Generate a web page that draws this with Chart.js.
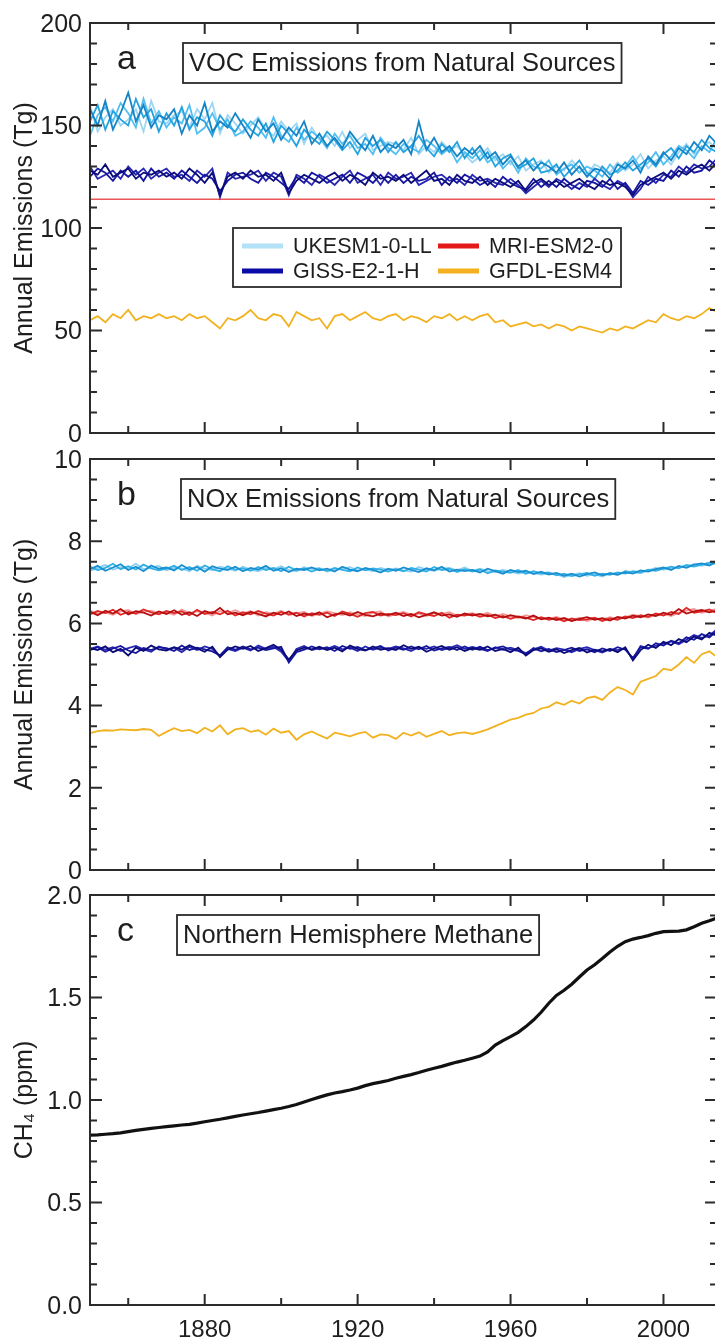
<!DOCTYPE html>
<html>
<head>
<meta charset="utf-8">
<script src="https://cdn.jsdelivr.net/npm/chart.js@4.4.0/dist/chart.umd.min.js"></script>
<style>
  html, body { margin: 0; padding: 0; background: #fff; overflow: hidden; width: 715px; height: 1341px; }
  canvas { position: absolute; left: 0; }
</style>
</head>
<body>
<!-- canvases overlap a little: each one keeps 23px around its plot for the end tick labels -->
<canvas id="chartA" width="720" height="456" style="top:0px"></canvas>
<canvas id="chartB" width="720" height="457" style="top:436px"></canvas>
<canvas id="chartC" width="720" height="469" style="top:872px"></canvas>
<script>
// --- DATA ---
const years = [
  1850,1852,1854,1856,1858,1860,1862,1864,1866,1868,
  1870,1872,1874,1876,1878,1880,1882,1884,1886,1888,
  1890,1892,1894,1896,1898,1900,1902,1904,1906,1908,
  1910,1912,1914,1916,1918,1920,1922,1924,1926,1928,
  1930,1932,1934,1936,1938,1940,1942,1944,1946,1948,
  1950,1952,1954,1956,1958,1960,1962,1964,1966,1968,
  1970,1972,1974,1976,1978,1980,1982,1984,1986,1988,
  1990,1992,1994,1996,1998,2000,2002,2004,2006,2008,
  2010,2012,2014
];

const modelNames = ['UKESM1-0-LL', 'MRI-ESM2-0', 'GISS-E2-1-H', 'GFDL-ESM4'];
const legendColors = ['#b3e1f7', '#e41a1a', '#0b0ba8', '#f4b020'];

// tick values
const xTickYears = [1860, 1880, 1900, 1920, 1940, 1960, 1980, 2000];
const xLabelYears = [1880, 1920, 1960, 2000];
const vocTicks = [0,10,20,30,40,50,60,70,80,90,100,110,120,130,140,150,160,170,180,190,200];
const vocLabels = [0, 50, 100, 150, 200];
const noxTicks = [0,0.5,1,1.5,2,2.5,3,3.5,4,4.5,5,5.5,6,6.5,7,7.5,8,8.5,9,9.5,10];
const noxLabels = [0, 2, 4, 6, 8, 10];
const ch4Ticks = [0,0.1,0.2,0.3,0.4,0.5,0.6,0.7,0.8,0.9,1,1.1,1.2,1.3,1.4,1.5,1.6,1.7,1.8,1.9,2];
const ch4Labels = [0, 0.5, 1, 1.5, 2];

// panel a: VOC emissions (Tg)
const vocUk1 = [
  158,150,162,148,156,166,152,160,149,155,
  153,158,146,155,150,161,147,152,149,156,
  150,144,153,147,151,143,149,145,152,141,
  146,140,144,139,147,142,138,145,137,141,
  139,143,136,152,138,144,137,140,135,139,
  136,140,134,137,131,135,130,133,128,132,
  130,127,132,126,130,125,129,128,124,131,
  129,133,127,135,131,137,133,139,136,142,
  138,145,141
];
const vocUk2 = [
  152,160,148,157,153,150,163,154,158,147,
  156,150,159,148,154,152,145,155,150,147,
  153,148,145,151,142,150,146,140,148,144,
  141,147,143,138,142,136,144,140,143,137,
  142,137,140,145,139,135,141,137,142,134,
  139,133,137,130,134,136,129,131,134,127,
  128,131,125,129,133,127,124,130,126,128,
  132,128,131,134,130,136,139,134,140,137,
  143,139,137
];
const vocUk3 = [
  145,155,159,152,161,156,149,163,151,157,
  149,154,151,160,146,149,156,148,153,145,
  147,152,149,144,154,145,142,149,143,147,
  144,139,146,141,145,139,141,136,144,139,
  136,141,139,137,143,140,136,139,132,137,
  134,138,132,135,129,133,127,134,130,129,
  133,126,129,131,127,130,128,125,131,127,
  130,135,129,132,137,131,135,140,138,134,
  140,137,144
];
const vocUk4 = [
  160,147,154,158,150,153,158,147,162,152,
  151,155,157,149,158,153,161,146,155,151,
  146,150,154,148,145,152,147,151,141,149,
  143,145,140,147,139,143,146,138,140,142,
  141,138,144,136,140,137,142,138,140,136,
  132,135,139,133,136,131,135,128,131,133,
  127,130,128,133,129,126,131,129,127,132,
  128,131,136,129,133,135,131,137,141,136,
  139,142,138
];
const vocGiss1 = [
  128,126,131,125,127,129,124,127,126,128,
  125,127,124,129,126,122,127,116,125,127,
  124,128,125,126,123,127,117,123,126,124,
  122,125,127,123,126,124,121,127,124,125,
  123,126,122,125,128,123,124,121,126,123,
  122,125,121,124,122,120,123,118,122,124,
  121,123,120,122,124,121,119,123,121,122,
  120,116,121,123,125,127,124,128,126,129,
  131,128,132
];
const vocGiss2 = [
  125,129,127,123,128,125,128,123,129,125,
  127,124,128,125,122,126,124,118,123,126,
  127,124,122,127,125,122,119,125,122,127,
  125,122,124,126,122,127,125,122,126,122,
  126,122,125,123,124,127,121,125,122,126,
  124,121,123,120,125,122,120,119,124,120,
  123,120,124,121,119,123,122,120,124,119,
  122,117,123,121,124,123,128,125,130,127,
  128,133,130
];
const vocGiss3 = [
  130,124,126,128,124,130,126,129,124,127,
  129,125,126,123,128,125,129,115,127,124,
  125,126,128,123,127,125,116,126,124,121,
  126,124,121,125,128,122,124,126,121,127,
  124,125,127,121,123,125,126,123,124,121,
  126,123,124,122,121,124,121,117,120,123,
  120,124,122,119,122,120,124,121,119,123,
  121,115,119,125,122,126,125,130,127,131,
  129,130,134
];
const vocGfdl = [
  55,57,54,58,56,60,55,57,56,58,
  56,57,55,58,56,57,54,51,56,55,
  57,60,56,55,58,57,52,59,57,55,
  56,51,57,58,55,57,59,56,55,57,
  58,55,57,56,54,57,56,58,55,57,
  55,57,58,54,55,52,53,54,52,53,
  51,53,52,50,52,51,50,49,51,50,
  52,51,53,55,54,58,56,55,57,56,
  58,61,59
];
const mriVocYears = [1850, 2014];
const mriVoc = [114, 114];

// panel b: NOx emissions (Tg)
const noxUk1 = [
  7.32,7.40,7.28,7.36,7.44,7.30,7.38,7.27,7.41,7.33,
  7.36,7.29,7.42,7.31,7.37,7.26,7.39,7.33,7.30,7.38,
  7.27,7.35,7.31,7.40,7.28,7.34,7.25,7.33,7.30,7.36,
  7.29,7.33,7.26,7.38,7.31,7.27,7.35,7.30,7.24,7.33,
  7.28,7.36,7.30,7.25,7.34,7.29,7.38,7.26,7.31,7.27,
  7.30,7.24,7.33,7.27,7.21,7.30,7.25,7.28,7.20,7.26,
  7.19,7.23,7.16,7.21,7.14,7.20,7.24,7.17,7.22,7.19,
  7.25,7.21,7.29,7.26,7.32,7.36,7.30,7.40,7.35,7.43,
  7.46,7.41,7.50
];
const noxUk2 = [
  7.38,7.30,7.35,7.45,7.32,7.39,7.31,7.43,7.34,7.29,
  7.33,7.40,7.30,7.37,7.28,7.41,7.32,7.27,7.39,7.31,
  7.34,7.28,7.37,7.30,7.35,7.27,7.38,7.29,7.34,7.26,
  7.33,7.28,7.35,7.30,7.27,7.36,7.29,7.34,7.31,7.26,
  7.32,7.27,7.35,7.31,7.26,7.37,7.30,7.33,7.25,7.32,
  7.26,7.31,7.22,7.29,7.26,7.23,7.30,7.21,7.27,7.22,
  7.24,7.17,7.21,7.15,7.19,7.23,7.16,7.21,7.18,7.24,
  7.21,7.27,7.24,7.31,7.28,7.33,7.38,7.34,7.42,7.38,
  7.43,7.48,7.45
];
const noxUk3 = [
  7.28,7.35,7.42,7.31,7.37,7.34,7.45,7.32,7.36,7.40,
  7.29,7.35,7.34,7.27,7.40,7.33,7.30,7.38,7.34,7.28,
  7.38,7.31,7.27,7.35,7.32,7.39,7.30,7.27,7.37,7.32,
  7.35,7.26,7.31,7.33,7.37,7.29,7.32,7.27,7.35,7.30,
  7.34,7.29,7.26,7.37,7.31,7.28,7.33,7.35,7.29,7.36,
  7.28,7.33,7.27,7.24,7.30,7.26,7.21,7.25,7.23,7.19,
  7.21,7.20,7.13,7.18,7.22,7.16,7.20,7.14,7.23,7.17,
  7.28,7.24,7.22,7.29,7.35,7.31,7.34,7.37,7.39,7.44,
  7.40,7.45,7.52
];
const noxMri1 = [
  6.28,6.20,6.31,6.24,6.35,6.22,6.30,6.26,6.19,6.29,
  6.23,6.32,6.21,6.27,6.18,6.30,6.24,6.38,6.22,6.26,
  6.20,6.28,6.23,6.17,6.26,6.21,6.29,6.18,6.24,6.20,
  6.27,6.15,6.22,6.25,6.19,6.28,6.21,6.17,6.24,6.20,
  6.26,6.18,6.23,6.15,6.21,6.27,6.19,6.22,6.16,6.24,
  6.19,6.23,6.17,6.21,6.14,6.20,6.16,6.12,6.19,6.10,
  6.14,6.08,6.13,6.06,6.11,6.15,6.09,6.13,6.07,6.16,
  6.12,6.19,6.15,6.22,6.18,6.26,6.21,6.35,6.24,6.29,
  6.33,6.27,6.31
];
const noxMri2 = [
  6.22,6.30,6.25,6.33,6.21,6.28,6.24,6.34,6.27,6.22,
  6.30,6.25,6.29,6.20,6.33,6.23,6.28,6.22,6.31,6.19,
  6.27,6.22,6.30,6.24,6.19,6.28,6.22,6.26,6.17,6.25,
  6.21,6.26,6.18,6.29,6.23,6.16,6.25,6.28,6.19,6.23,
  6.20,6.25,6.17,6.27,6.22,6.18,6.26,6.14,6.21,6.19,
  6.23,6.16,6.21,6.13,6.18,6.11,6.17,6.14,6.08,6.15,
  6.09,6.13,6.05,6.12,6.08,6.10,6.14,6.06,6.12,6.09,
  6.17,6.13,6.20,6.16,6.24,6.19,6.28,6.23,6.38,6.26,
  6.29,6.34,6.25
];
const noxMri3 = [
  6.31,6.24,6.27,6.21,6.29,6.33,6.23,6.28,6.31,6.25,
  6.27,6.21,6.34,6.25,6.29,6.26,6.19,6.30,6.25,6.32,
  6.24,6.30,6.19,6.27,6.23,6.31,6.20,6.25,6.28,6.18,
  6.24,6.29,6.25,6.20,6.27,6.22,6.18,6.26,6.29,6.17,
  6.23,6.28,6.21,6.24,6.18,6.25,6.23,6.27,6.19,6.22,
  6.25,6.20,6.26,6.18,6.23,6.17,6.13,6.20,6.15,6.12,
  6.11,6.16,6.10,6.07,6.14,6.06,6.12,6.10,6.15,6.11,
  6.15,6.21,6.17,6.14,6.21,6.23,6.18,6.26,6.31,6.35,
  6.26,6.30,6.36
];
const noxGiss1 = [
  5.40,5.35,5.44,5.30,5.38,5.22,5.41,5.33,5.46,5.37,
  5.34,5.42,5.36,5.47,5.39,5.31,5.43,5.18,5.36,5.44,
  5.38,5.45,5.33,5.40,5.48,5.36,5.12,5.34,5.41,5.37,
  5.43,5.35,5.41,5.32,5.46,5.38,5.34,5.44,5.36,5.40,
  5.35,5.47,5.38,5.43,5.31,5.39,5.45,5.36,5.42,5.33,
  5.40,5.36,5.44,5.33,5.38,5.30,5.41,5.22,5.35,5.39,
  5.31,5.37,5.28,5.35,5.40,5.29,5.36,5.32,5.38,5.30,
  5.42,5.10,5.35,5.48,5.40,5.55,5.47,5.62,5.54,5.68,
  5.61,5.77,5.70
];
const noxGiss2 = [
  5.35,5.42,5.31,5.39,5.45,5.34,5.28,5.40,5.35,5.42,
  5.40,5.33,5.46,5.35,5.41,5.37,5.32,5.22,5.42,5.36,
  5.44,5.37,5.41,5.35,5.39,5.43,5.05,5.30,5.36,5.44,
  5.37,5.42,5.33,5.45,5.38,5.43,5.35,5.39,5.45,5.34,
  5.41,5.36,5.44,5.37,5.45,5.34,5.39,5.43,5.35,5.44,
  5.36,5.43,5.35,5.40,5.44,5.36,5.33,5.25,5.40,5.32,
  5.38,5.30,5.35,5.41,5.33,5.37,5.30,5.39,5.33,5.42,
  5.36,5.16,5.42,5.38,5.52,5.46,5.58,5.52,5.66,5.60,
  5.74,5.66,5.82
];
const noxGiss3 = [
  5.38,5.44,5.36,5.42,5.33,5.40,5.45,5.37,5.31,5.44,
  5.37,5.41,5.30,5.43,5.35,5.44,5.38,5.20,5.38,5.33,
  5.41,5.34,5.46,5.38,5.43,5.31,5.08,5.38,5.45,5.35,
  5.40,5.38,5.45,5.37,5.41,5.33,5.44,5.36,5.41,5.38,
  5.44,5.39,5.33,5.42,5.38,5.44,5.35,5.40,5.47,5.38,
  5.43,5.38,5.33,5.42,5.36,5.41,5.35,5.28,5.37,5.43,
  5.34,5.40,5.36,5.30,5.38,5.42,5.35,5.29,5.37,5.35,
  5.39,5.13,5.45,5.40,5.46,5.51,5.56,5.49,5.60,5.72,
  5.65,5.70,5.86
];
const noxGfdl = [
  3.33,3.38,3.40,3.39,3.42,3.41,3.40,3.43,3.41,3.26,
  3.36,3.45,3.38,3.41,3.33,3.46,3.37,3.52,3.30,3.42,
  3.45,3.36,3.40,3.29,3.44,3.34,3.38,3.17,3.30,3.37,
  3.28,3.20,3.34,3.30,3.25,3.32,3.36,3.22,3.30,3.28,
  3.19,3.34,3.27,3.35,3.24,3.31,3.38,3.28,3.33,3.35,
  3.31,3.36,3.42,3.50,3.58,3.66,3.70,3.78,3.82,3.93,
  3.97,4.08,4.02,4.12,4.05,4.18,4.22,4.14,4.32,4.45,
  4.38,4.27,4.58,4.65,4.72,4.90,4.86,5.00,5.18,5.04,
  5.25,5.32,5.18
];

// panel c: Northern Hemisphere methane (ppm)
const ch4 = [
  0.829,0.830,0.833,0.836,0.840,0.846,0.852,0.857,0.862,0.866,
  0.870,0.874,0.878,0.881,0.887,0.894,0.900,0.906,0.913,0.920,
  0.927,0.933,0.939,0.946,0.953,0.960,0.968,0.978,0.990,1.002,
  1.014,1.025,1.034,1.041,1.049,1.058,1.070,1.080,1.087,1.095,
  1.106,1.115,1.124,1.134,1.145,1.155,1.164,1.175,1.185,1.194,
  1.204,1.214,1.235,1.268,1.290,1.309,1.330,1.358,1.390,1.428,
  1.472,1.510,1.535,1.565,1.600,1.634,1.660,1.690,1.722,1.750,
  1.772,1.785,1.793,1.802,1.813,1.821,1.823,1.824,1.830,1.845,
  1.862,1.874,1.888
];

// --- HELPERS ---
const FONT = '"Liberation Sans", Arial, Helvetica, sans-serif';
Chart.defaults.font.family = FONT;
Chart.defaults.color = '#1e1e1e';

const pts = (vals, xs = years) => xs.map((yr, i) => ({ x: yr, y: vals[i] }));
const series = (vals, color, width = 1.8, xs = years) => ({
    data: pts(vals, xs),
    borderColor: color,
    borderWidth: width,
    pointRadius: 0,
    fill: false,
    tension: 0
});

// frame, inward ticks, panel letter, title box and legend
const panelDecor = {
    id: 'panelDecor',
    afterDatasetsDraw(chart, args, opts) {
        const { ctx, chartArea: a } = chart;
        const xs = chart.scales.x, ys = chart.scales.y;
        ctx.save();
        ctx.strokeStyle = '#2b2b2b';
        ctx.lineWidth = 2;
        ctx.strokeRect(a.left, a.top, a.right - a.left, a.bottom - a.top);

        ctx.beginPath();
        xs.ticks.forEach(t => {
            const px = xs.getPixelForValue(t.value);
            const len = xLabelYears.includes(t.value) ? 11 : 7;
            ctx.moveTo(px, a.bottom); ctx.lineTo(px, a.bottom - len);
            ctx.moveTo(px, a.top); ctx.lineTo(px, a.top + len);
        });
        ys.ticks.forEach(t => {
            const py = ys.getPixelForValue(t.value);
            const len = t.label ? 12 : 7;
            ctx.moveTo(a.left, py); ctx.lineTo(a.left + len, py);
            ctx.moveTo(a.right, py); ctx.lineTo(a.right - len, py);
        });
        ctx.stroke();

        // panel letter
        ctx.fillStyle = '#1e1e1e';
        ctx.textAlign = 'left';
        ctx.textBaseline = 'alphabetic';
        ctx.font = '34px ' + FONT;
        ctx.fillText(opts.letter, a.left + 27, a.top + 46);

        // title box
        ctx.font = '25.5px ' + FONT;
        const bw = ctx.measureText(opts.title).width + 12;
        const bx = a.left + opts.boxDx, by = a.top + 20, bh = 40;
        ctx.fillStyle = '#fff';
        ctx.fillRect(bx, by, bw, bh);
        ctx.lineWidth = 1.8;
        ctx.strokeRect(bx, by, bw, bh);
        ctx.fillStyle = '#1e1e1e';
        ctx.textBaseline = 'middle';
        ctx.fillText(opts.title, bx + 6, by + bh / 2 + 1);

        // legend (panel a only)
        if (opts.legend) {
            const lx = a.left + 143, ly = a.top + 205, lw = 388, lh = 59;
            ctx.fillStyle = '#fff';
            ctx.fillRect(lx, ly, lw, lh);
            ctx.strokeStyle = '#2b2b2b';
            ctx.lineWidth = 1.8;
            ctx.strokeRect(lx, ly, lw, lh);
            ctx.font = '21.5px ' + FONT;
            modelNames.forEach((name, i) => {
                const col = i % 2, row = Math.floor(i / 2);
                const sx = lx + (col ? 205 : 9), sy = ly + (row ? 43 : 18);
                ctx.strokeStyle = legendColors[i];
                ctx.lineWidth = 5;
                ctx.beginPath();
                ctx.moveTo(sx, sy); ctx.lineTo(sx + 41, sy);
                ctx.stroke();
                ctx.fillStyle = '#1e1e1e';
                ctx.fillText(name, sx + 51, sy + 1);
            });
        }
        ctx.restore();
    }
};

function panelOptions(cfg) {
    return {
        responsive: false,
        animation: false,
        events: [],
        layout: { padding: { top: 23, right: 3, left: 0, bottom: 0 } },
        plugins: {
            legend: { display: false },
            tooltip: { enabled: false },
            panelDecor: cfg.decor
        },
        scales: {
            x: {
                type: 'linear',
                min: 1850,
                max: 2014,
                grid: { display: false, drawTicks: false },
                border: { display: false },
                afterBuildTicks: s => { s.ticks = xTickYears.map(v => ({ value: v })); },
                afterFit: s => { s.height = cfg.xHeight; },
                ticks: {
                    autoSkip: false,
                    maxRotation: 0,
                    minRotation: 0,
                    padding: 11,
                    font: { size: 24 },
                    callback: v => (cfg.showX && xLabelYears.includes(v)) ? String(v) : ''
                }
            },
            y: {
                type: 'linear',
                min: cfg.yTicks[0],
                max: cfg.yTicks[cfg.yTicks.length - 1],
                grid: { display: false, drawTicks: false },
                border: { display: false },
                afterBuildTicks: s => { s.ticks = cfg.yTicks.map(v => ({ value: v })); },
                afterFit: s => { s.width = 90; },
                ticks: {
                    autoSkip: false,
                    padding: 8,
                    labelOffset: 2,
                    font: { size: 25 },
                    callback: v => cfg.yLabels.includes(v) ? cfg.fmt(v) : ''
                },
                title: {
                    display: true,
                    text: cfg.yTitle,
                    font: { size: 25 },
                    padding: { top: 10, bottom: 0 }
                }
            }
        }
    };
}

// --- RENDER ---
window.onload = () => {
    new Chart(document.getElementById('chartA'), {
        type: 'line',
        data: {
            datasets: [
                series(vocGiss1, '#0c0c78'),
                series(vocGiss2, '#1616a0'),
                series(vocGiss3, '#2828b4'),
                series(vocUk1, '#1683c4'),
                series(vocUk2, '#25a3df'),
                series(vocUk3, '#52bff0'),
                series(vocUk4, '#9fd6f2'),
                series(mriVoc, '#ec5656', 1.6, mriVocYears),
                series(vocGfdl, '#f2b21f')
            ]
        },
        options: panelOptions({
            xHeight: 13, showX: false,
            yTicks: vocTicks, yLabels: vocLabels, fmt: v => String(v),
            yTitle: 'Annual Emissions (Tg)',
            decor: { letter: 'a', title: 'VOC Emissions from Natural Sources', boxDx: 93, legend: true }
        }),
        plugins: [panelDecor]
    });

    new Chart(document.getElementById('chartB'), {
        type: 'line',
        data: {
            datasets: [
                series(noxGiss1, '#0c0c78'),
                series(noxGiss2, '#1616a0'),
                series(noxGiss3, '#2828b4'),
                series(noxMri1, '#b50f0f'),
                series(noxMri2, '#e02828'),
                series(noxMri3, '#f29a9a'),
                series(noxUk1, '#1a8fd0'),
                series(noxUk2, '#2fb0e8'),
                series(noxUk3, '#8ccff0'),
                series(noxGfdl, '#f2b21f')
            ]
        },
        options: panelOptions({
            xHeight: 12, showX: false,
            yTicks: noxTicks, yLabels: noxLabels, fmt: v => String(v),
            yTitle: 'Annual Emissions (Tg)',
            decor: { letter: 'b', title: 'NOx Emissions from Natural Sources', boxDx: 91, legend: false }
        }),
        plugins: [panelDecor]
    });

    new Chart(document.getElementById('chartC'), {
        type: 'line',
        data: {
            datasets: [
                series(ch4, '#111111', 3.2)
            ]
        },
        options: panelOptions({
            xHeight: 36, showX: true,
            yTicks: ch4Ticks, yLabels: ch4Labels, fmt: v => v.toFixed(1),
            yTitle: 'CH\u2084 (ppm)',
            decor: { letter: 'c', title: 'Northern Hemisphere Methane', boxDx: 87, legend: false }
        }),
        plugins: [panelDecor]
    });
};
</script>
</body>
</html>
